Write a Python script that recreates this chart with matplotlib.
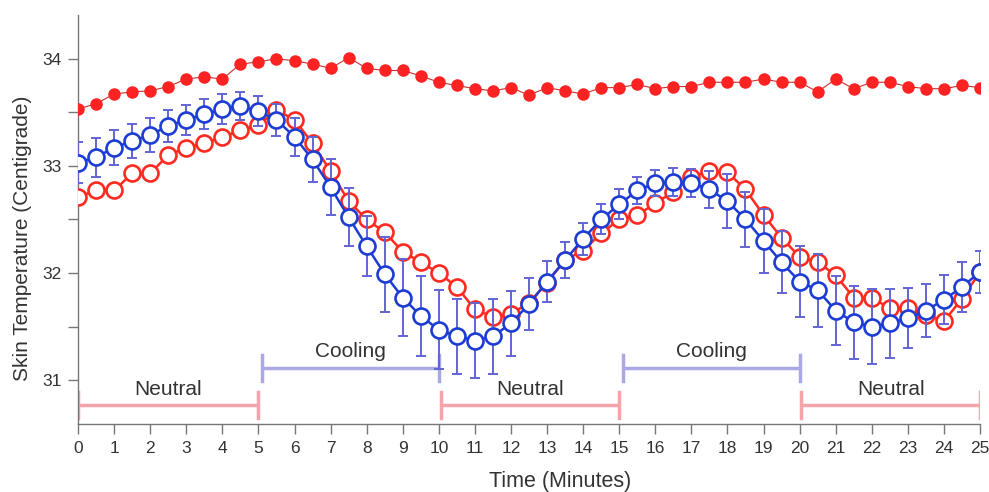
import numpy as np
import matplotlib
matplotlib.use("Agg")
import matplotlib.pyplot as plt

plt.rcParams['font.family'] = ['Liberation Sans', 'DejaVu Sans']

time_min = np.arange(0, 25.01, 0.5)

red_filled = [33.53, 33.58, 33.67, 33.69, 33.70, 33.74, 33.81, 33.83, 33.81, 33.95,
              33.97, 34.00, 33.98, 33.95, 33.91, 34.01, 33.91, 33.89, 33.89, 33.84,
              33.78, 33.75, 33.72, 33.70, 33.73, 33.66, 33.73, 33.70, 33.67, 33.73,
              33.73, 33.76, 33.72, 33.74, 33.74, 33.78, 33.78, 33.78, 33.81, 33.78,
              33.78, 33.69, 33.81, 33.72, 33.78, 33.78, 33.74, 33.72, 33.72, 33.75,
              33.73]

blue_open = [33.03, 33.08, 33.17, 33.23, 33.29, 33.37, 33.43, 33.48, 33.53, 33.56,
             33.51, 33.43, 33.27, 33.06, 32.80, 32.52, 32.25, 31.99, 31.77, 31.60,
             31.47, 31.41, 31.37, 31.41, 31.53, 31.71, 31.92, 32.12, 32.32, 32.50,
             32.64, 32.77, 32.84, 32.85, 32.84, 32.78, 32.67, 32.50, 32.30, 32.10,
             31.92, 31.84, 31.65, 31.54, 31.50, 31.53, 31.58, 31.65, 31.75, 31.87,
             32.01]

blue_err = [0.19, 0.18, 0.16, 0.16, 0.16, 0.15, 0.14, 0.14, 0.14, 0.13,
            0.14, 0.15, 0.18, 0.21, 0.26, 0.27, 0.28, 0.35, 0.36, 0.37,
            0.37, 0.35, 0.35, 0.35, 0.30, 0.24, 0.19, 0.17, 0.15, 0.14,
            0.14, 0.13, 0.12, 0.13, 0.13, 0.17, 0.25, 0.26, 0.30, 0.29,
            0.33, 0.34, 0.32, 0.34, 0.35, 0.32, 0.28, 0.25, 0.23, 0.23,
            0.20]

red_open = [32.71, 32.77, 32.77, 32.93, 32.93, 33.10, 33.17, 33.21, 33.27, 33.33,
            33.38, 33.52, 33.43, 33.21, 32.95, 32.67, 32.50, 32.38, 32.20, 32.10,
            32.00, 31.87, 31.66, 31.59, 31.62, 31.72, 31.91, 32.12, 32.21, 32.37,
            32.50, 32.54, 32.65, 32.76, 32.90, 32.95, 32.94, 32.78, 32.54, 32.33,
            32.15, 32.10, 31.98, 31.77, 31.77, 31.67, 31.67, 31.61, 31.55, 31.76,
            32.01]

phase_labels = ["Neutral", "Cooling", "Neutral", "Cooling", "Neutral"]
phase_start = [0, 5.1, 10.05, 15.1, 20.05]
phase_end = [5, 10, 15, 20, 25]

x_ticks = list(range(0, 26))
y_ticks = [31, 32, 33, 34]

fig = plt.figure(figsize=(9.89, 4.92), dpi=100)
ax = fig.add_axes([0.0789, 0.138, 0.912, 0.832])

# filled red series
ax.plot(time_min, red_filled, color='#c83030', lw=0.8, zorder=2)
ax.plot(time_min, red_filled, 'o', color='#ff2222', markersize=9, markeredgewidth=0, zorder=3)

# red open series
ax.plot(time_min, red_open, '-o', color='#ff2a1f', lw=1.8, markersize=11.5,
        markerfacecolor='white', markeredgewidth=1.9, zorder=4)

# blue open series with error bars
ax.errorbar(time_min, blue_open, yerr=blue_err, fmt='none', ecolor='#6264d4',
            elinewidth=1.4, capsize=3.5, capthick=1.4, zorder=5)
ax.plot(time_min, blue_open, '-o', color='#1c3cd4', lw=1.8, markersize=11.5,
        markerfacecolor='white', markeredgewidth=1.9, zorder=6)

# phase bars
cap = 0.12
for lab, s, e in zip(phase_labels, phase_start, phase_end):
    if lab == "Neutral":
        yb, col, yt = 30.77, '#f7a3ab', 30.915
    else:
        yb, col, yt = 31.115, '#aaa8e6', 31.265
    ax.plot([s, e], [yb, yb], color=col, lw=2.5, solid_capstyle='butt', zorder=2)
    ax.plot([s, s], [yb - cap, yb + cap], color=col, lw=2.5, zorder=2)
    ax.plot([e, e], [yb - cap, yb + cap], color=col, lw=2.5, zorder=2)
    ax.text((s + e) / 2, yt, lab, ha='center', va='center', fontsize=15, color='#333333')

ax.set_xlim(0, 25)
ax.set_ylim(30.59, 34.41)
ax.set_xticks(x_ticks)
ax.set_yticks(y_ticks)
ax.set_yticks([31.5, 32.5, 33.5], minor=True)
ax.tick_params(axis='both', which='both', direction='out', colors='#777777',
               labelcolor='#333333', labelsize=12.5, length=7.5, width=1, pad=4.5)
for side in ['top', 'right']:
    ax.spines[side].set_visible(False)
for side in ['left', 'bottom']:
    ax.spines[side].set_color('#777777')
    ax.spines[side].set_linewidth(1)

ax.set_xlabel("Time (Minutes)", fontsize=15.5, color='#333333', va='center')
ax.set_ylabel("Skin Temperature (Centigrade)", fontsize=15, color='#333333', va='center')
ax.xaxis.set_label_coords(0.535, -0.14)
ax.yaxis.set_label_coords(-0.062, 0.453)

fig.savefig("out.png", dpi=100)
